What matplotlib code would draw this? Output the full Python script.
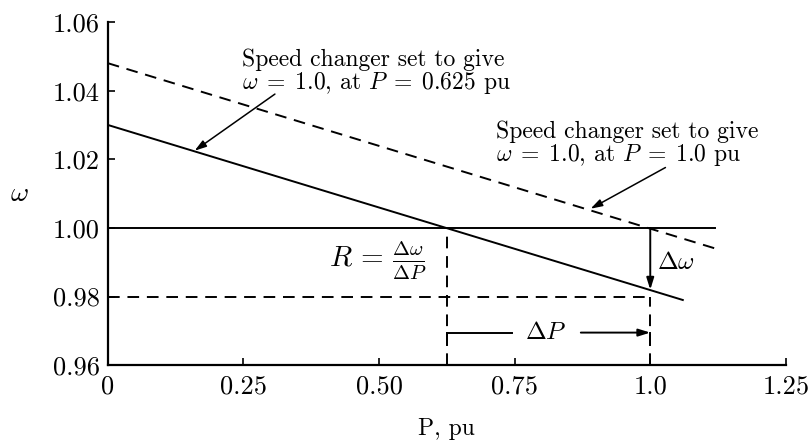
import matplotlib
matplotlib.use("Agg")
import matplotlib.pyplot as plt

plt.rcParams['font.family'] = ['cmr10', 'DejaVu Serif']
plt.rcParams['mathtext.fontset'] = 'cm'
plt.rcParams['axes.unicode_minus'] = False

# data
droop_p = [0.0, 1.06]
droop_w = [1.030, 0.979]
raised_p = [0.0, 1.12]
raised_w = [1.048, 0.994]
nominal_p = [0.0, 1.12]
nominal_w = [1.0, 1.0]
p_set = 0.625
p_new = 1.0
w_new = 0.982
w_ref = 0.98
dp_level = 0.9695

x_ticks = [0, 0.25, 0.50, 0.75, 1.0, 1.25]
x_labels = ['0', '0.25', '0.50', '0.75', '1.0', '1.25']
y_ticks = [0.96, 0.98, 1.00, 1.02, 1.04, 1.06]
y_labels = ['0.96', '0.98', '1.00', '1.02', '1.04', '1.06']

fs = 17
tick_fs = 19
lw = 1.4
dash = (6, 4)
head = '-|>,head_length=0.7,head_width=0.22'

fig = plt.figure(figsize=(8.11, 4.4), dpi=100)
ax = fig.add_axes([0.133, 0.17, 0.836, 0.78])

ax.plot(droop_p, droop_w, color='k', lw=lw)
ax.plot(raised_p, raised_w, color='k', lw=lw, dashes=dash)
ax.plot(nominal_p, nominal_w, color='k', lw=lw)
ax.plot([0, p_new], [w_ref, w_ref], color='k', lw=lw, dashes=dash)
ax.plot([p_set, p_set], [0.96, 1.0], color='k', lw=lw, dashes=dash)
ax.plot([p_new, p_new], [0.96, w_ref], color='k', lw=lw, dashes=dash)

# delta omega arrow
ax.annotate('', xy=(p_new, w_new), xytext=(p_new, 1.0),
            arrowprops=dict(arrowstyle=head, color='k', lw=lw, shrinkA=0, shrinkB=0))
ax.text(1.013, 0.9898, r'$\Delta\omega$', fontsize=fs + 1, va='center', ha='left')

# delta P bracket
ax.plot([p_set, 0.745], [dp_level, dp_level], color='k', lw=lw)
ax.plot([p_set, p_set], [0.966, dp_level], color='k', lw=lw)
ax.plot([p_new, p_new], [0.966, dp_level], color='k', lw=lw)
ax.annotate('', xy=(p_new, dp_level), xytext=(0.872, dp_level),
            arrowprops=dict(arrowstyle=head, color='k', lw=lw, shrinkA=0, shrinkB=0))
ax.text(0.808, dp_level, r'$\Delta P$', fontsize=fs + 1, ha='center', va='center')

ax.text(0.588, 0.9905, r'$R\,=\,\frac{\Delta\omega}{\Delta P}$', fontsize=21,
        ha='right', va='center')

# speed changer notes
ax.text(0.247, 1.0385, 'Speed changer set to give\n' + r'$\omega\;=\;1.0$, at $P\;=\;0.625$ pu',
        fontsize=fs, ha='left', va='bottom', linespacing=0.95)
ax.annotate('', xy=(0.16, 1.0225), xytext=(0.308, 1.039),
            arrowprops=dict(arrowstyle=head, color='k', lw=1.1, shrinkA=0, shrinkB=0))

ax.text(0.715, 1.0174, 'Speed changer set to give\n' + r'$\omega\;=\;1.0$, at $P\;=\;1.0$ pu',
        fontsize=fs, ha='left', va='bottom', linespacing=0.95)
ax.annotate('', xy=(0.89, 1.0056), xytext=(1.028, 1.0176),
            arrowprops=dict(arrowstyle=head, color='k', lw=1.1, shrinkA=0, shrinkB=0))

ax.set_xlim(0, 1.25)
ax.set_ylim(0.96, 1.06)
ax.set_xticks(x_ticks)
ax.set_xticklabels(x_labels)
ax.set_yticks(y_ticks)
ax.set_yticklabels(y_labels)
ax.tick_params(direction='in', length=5, width=1.2, labelsize=tick_fs)
ax.tick_params(axis='x', pad=7)
ax.tick_params(axis='y', pad=6)
ax.spines['top'].set_visible(False)
ax.spines['right'].set_visible(False)
ax.spines['left'].set_linewidth(1.6)
ax.spines['bottom'].set_linewidth(1.6)

ax.set_xlabel('P, pu', fontsize=fs, labelpad=14)
ax.set_ylabel(r'$\omega$', fontsize=fs + 3, rotation=0, labelpad=24, va='center')

fig.savefig('out.png', dpi=100)
